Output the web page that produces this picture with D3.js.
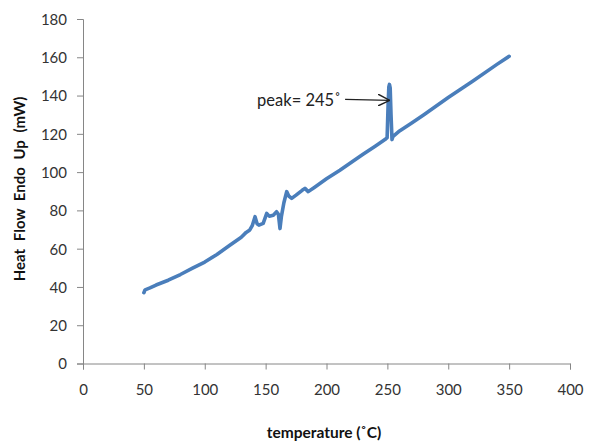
<!DOCTYPE html>
<html>
<head>
<meta charset="utf-8">
<script src="https://cdn.jsdelivr.net/npm/d3@7"></script>
<style>
  body { margin: 0; background: #fff; }
  svg { display: block; font-family: Lato, "Open Sans", sans-serif; }
</style>
</head>
<body>
<script>
// DSC trace
const temperature = [50, 51, 53, 55, 60, 70, 80, 90, 100, 110, 120, 130, 134, 137, 139, 141.3, 143, 144.5, 148, 150.9, 153, 156.3, 159, 160.5, 161.8, 163, 165, 167.3, 169, 171.4, 175, 180, 182.3, 185, 190, 200, 211, 219, 230, 240, 248, 249.8, 250.6, 251.2, 251.7, 252.3, 253, 253.8, 254.5, 260, 270, 280, 300, 320, 340, 350];
const heatFlow    = [37, 38.5, 39, 39.5, 41, 43.5, 46.5, 49.8, 53, 57, 61.5, 66, 68.5, 69.8, 72, 76.7, 73, 72.3, 73.2, 78.4, 77, 77.5, 79.3, 78, 70.5, 77, 84, 89.8, 87.5, 86.3, 88, 90.5, 91.5, 89.8, 92, 96.5, 101, 104.5, 109.3, 113.5, 117, 118, 135, 144.5, 145.8, 144, 130, 117, 118.5, 121.5, 125.7, 130, 139, 147.5, 156.3, 160.5];

const xTicks = [0, 50, 100, 150, 200, 250, 300, 350, 400];
const yTicks = [0, 20, 40, 60, 80, 100, 120, 140, 160, 180];

const peakLabel = "peak= 245˚";
const peakTip = [252, 137.5];
const peakTextAt = [143, 137.5];

const width = 589, height = 445;
const margin = { left: 83, right: 19, top: 19, bottom: 82 };

const svg = d3.select("body").append("svg")
  .attr("width", width)
  .attr("height", height);

const x = d3.scaleLinear().domain([0, 400]).range([margin.left, width - margin.right]);
const y = d3.scaleLinear().domain([0, 180]).range([height - margin.bottom + 0.5, margin.top]);

const axisColor = "#868686";

const gx = svg.append("g")
  .attr("transform", `translate(0,${y(0)})`)
  .call(d3.axisBottom(x).tickValues(xTicks).tickSize(6).tickPadding(15));
const gy = svg.append("g")
  .attr("transform", `translate(${x(0)},0)`)
  .call(d3.axisLeft(y).tickValues(yTicks).tickSize(6).tickPadding(10));

for (const g of [gx, gy]) {
  g.select(".domain").attr("stroke", axisColor);
  g.selectAll(".tick line").attr("stroke", axisColor);
  g.selectAll(".tick text")
    .attr("fill", "#333")
    .style("font-size", "15px")
    .style("font-family", "Lato, sans-serif");
}
gy.selectAll(".tick text").attr("dy", "0.36em");

const line = d3.line()
  .x((d, i) => x(temperature[i]))
  .y(d => y(d));

svg.append("path")
  .datum(heatFlow)
  .attr("fill", "none")
  .attr("stroke", "#4a7ebb")
  .attr("stroke-width", 3.6)
  .attr("stroke-linejoin", "round")
  .attr("stroke-linecap", "round")
  .attr("d", line);

// annotation
svg.append("defs").append("marker")
  .attr("id", "arrow")
  .attr("viewBox", "0 0 10 10")
  .attr("refX", 10).attr("refY", 5)
  .attr("markerWidth", 12).attr("markerHeight", 12)
  .attr("markerUnits", "userSpaceOnUse")
  .attr("orient", "auto")
  .append("path")
  .attr("d", "M0,0 L10,5 L0,10")
  .attr("fill", "none")
  .attr("stroke", "#222")
  .attr("stroke-width", 1.2);

svg.append("line")
  .attr("x1", x(peakTextAt[0]) + 88)
  .attr("y1", y(peakTip[1]) - 1)
  .attr("x2", x(peakTip[0]))
  .attr("y2", y(peakTip[1]))
  .attr("stroke", "#222")
  .attr("stroke-width", 1.2)
  .attr("marker-end", "url(#arrow)");

svg.append("text")
  .attr("x", x(peakTextAt[0]))
  .attr("y", y(peakTextAt[1]))
  .attr("dy", "0.35em")
  .attr("fill", "#222")
  .style("font-size", "16.5px")
  .text(peakLabel);

// axis titles
svg.append("text")
  .attr("x", 324)
  .attr("y", 438)
  .attr("text-anchor", "middle")
  .attr("font-weight", "bold")
  .attr("fill", "#111")
  .style("font-size", "15.5px")
  .text("temperature (˚C)");

svg.append("text")
  .attr("transform", `translate(25,189) rotate(-90)`)
  .attr("text-anchor", "middle")
  .attr("font-weight", "bold")
  .attr("fill", "#111")
  .style("font-size", "15px")
  .style("word-spacing", "4px")
  .text("Heat Flow Endo Up (mW)");
</script>
</body>
</html>
